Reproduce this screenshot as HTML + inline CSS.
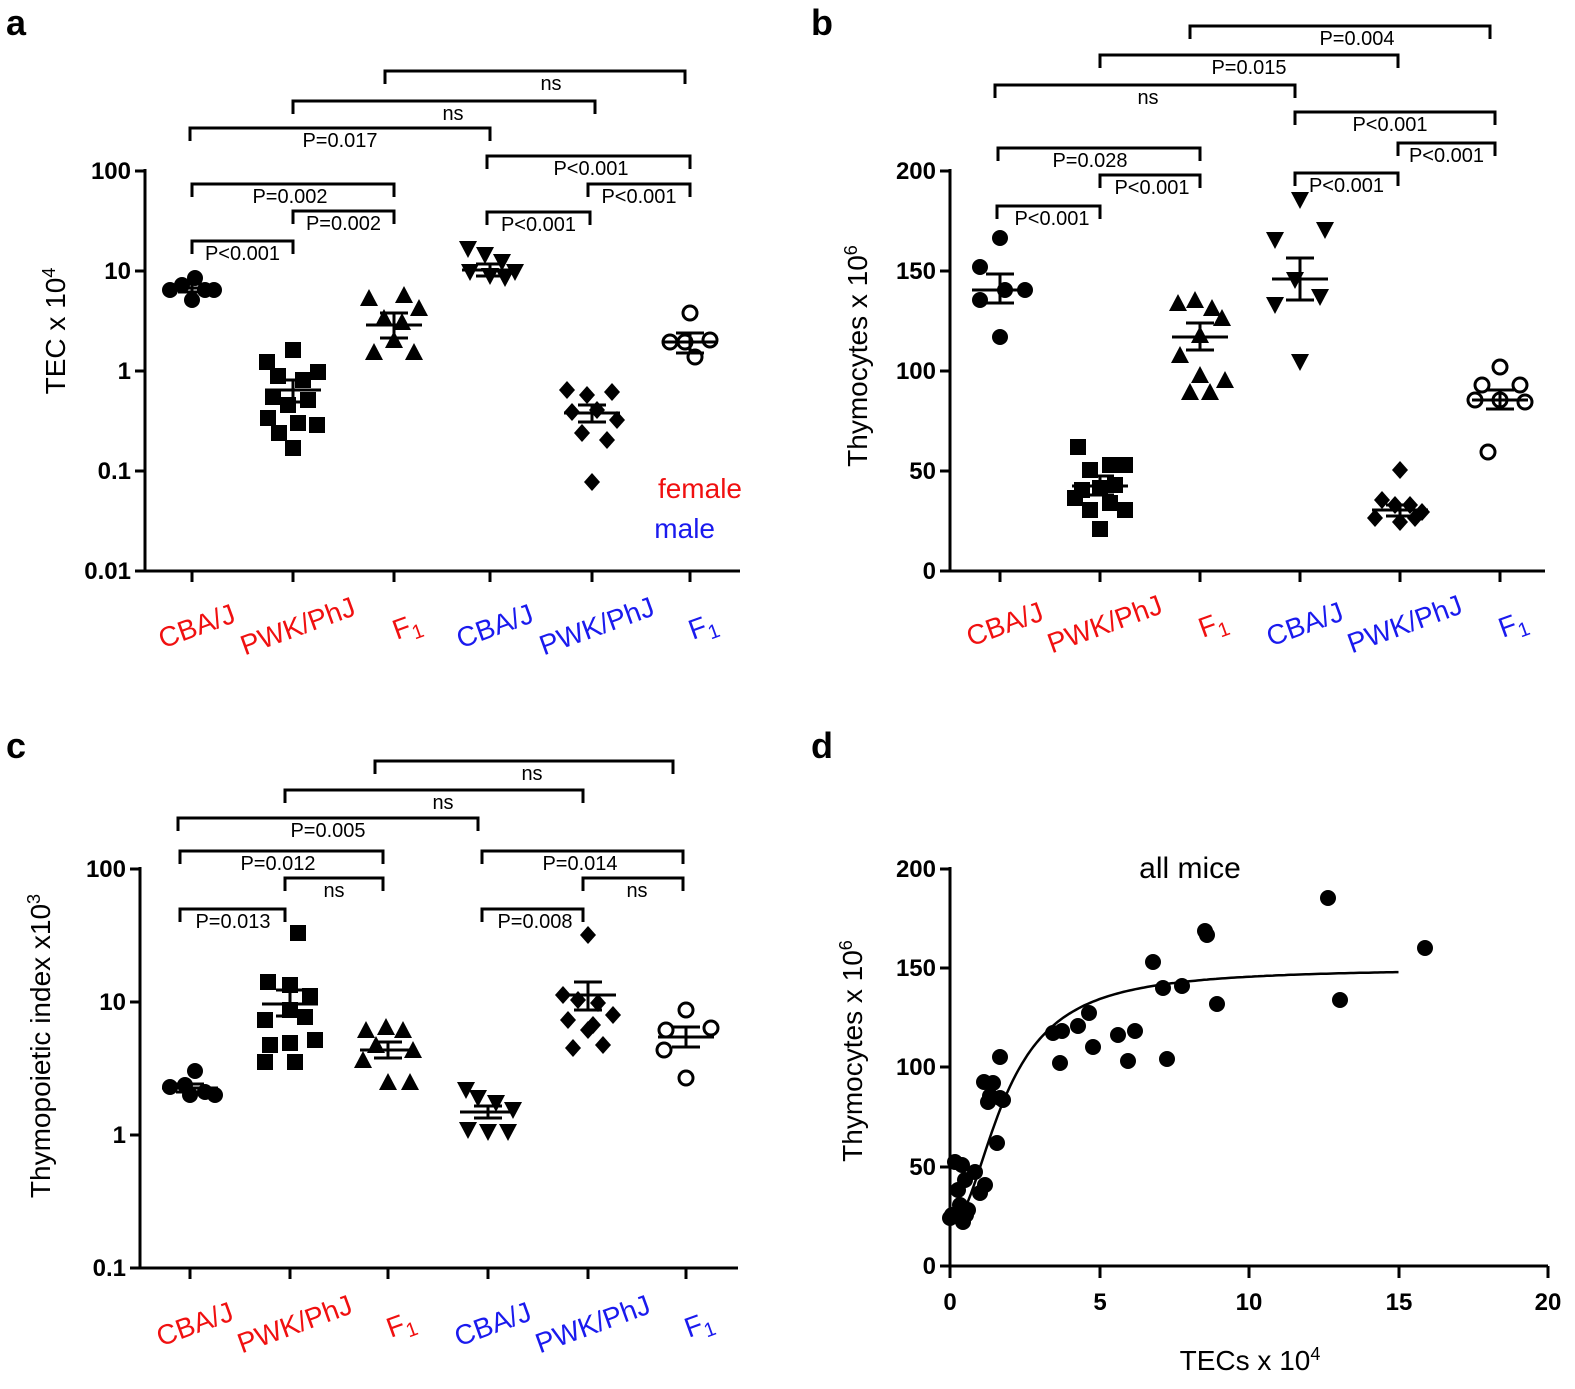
<!DOCTYPE html>
<html><head><meta charset="utf-8"><style>
html,body{margin:0;padding:0;background:#fff}
svg{display:block;font-family:"Liberation Sans",Arial,sans-serif}
</style></head><body>
<svg id="s" width="1575" height="1389" viewBox="0 0 1575 1389" xmlns="http://www.w3.org/2000/svg"></svg>
<script>
const s=document.getElementById('s');let h='';
const R='#f01010',B='#1a1aee';
function line(x1,y1,x2,y2,w){h+=`<line x1="${x1}" y1="${y1}" x2="${x2}" y2="${y2}" stroke="#000" stroke-width="${w||3}"/>`;}
function txt(x,y,t,o){o=o||{};h+=`<text x="${x}" y="${y}" font-size="${o.fs||20}" font-weight="${o.fw||'normal'}" fill="${o.c||'#000'}" text-anchor="${o.a||'middle'}" ${o.tr?'transform="'+o.tr+'"':''}>${t}</text>`;}
function br(y,x1,x2,lab,lx){line(x1,y,x2,y);line(x1,y-1.5,x1,y+13);line(x2,y-1.5,x2,y+13);txt(lx||(x1+x2)/2,y+19,lab,{fs:20});}
function mk(t,x,y){const r=8;
 if(t=='c')h+=`<circle cx="${x}" cy="${y}" r="${r}" fill="#000"/>`;
 if(t=='o')h+=`<circle cx="${x}" cy="${y}" r="${r-1}" fill="#fff" stroke="#000" stroke-width="3"/>`;
 if(t=='s')h+=`<rect x="${x-r}" y="${y-r}" width="${2*r}" height="${2*r}" fill="#000"/>`;
 if(t=='u')h+=`<polygon points="${x},${y-r-1} ${x+r+1},${y+r} ${x-r-1},${y+r}" fill="#000"/>`;
 if(t=='v')h+=`<polygon points="${x},${y+r+1} ${x+r+1},${y-r} ${x-r-1},${y-r}" fill="#000"/>`;
 if(t=='d')h+=`<polygon points="${x},${y-r-1} ${x+r},${y} ${x},${y+r+1} ${x-r},${y}" fill="#000"/>`;}
function grp(t,cx,pts,m,lo,hi){pts.forEach(p=>mk(t,cx+p[0],p[1]));line(cx-28,m,cx+28,m);line(cx,lo,cx,hi);line(cx-14,lo,cx+14,lo);line(cx-14,hi,cx+14,hi);}
function cats(xs,y){const L=['CBA/J','PWK/PhJ','F<tspan font-size="20" dy="6">1</tspan>'];
 xs.forEach((x,i)=>{const c=i<3?R:B;const cx=x+8+(i%3==2?8:0);txt(cx,y,L[i%3],{fs:28,c:c,a:'middle',tr:`rotate(-20 ${cx} ${y})`});});}
function yaxis(x,ys,labs,x2,yb){line(x,ys[0]-2,x,yb+1.5);ys.forEach((y,i)=>{line(x-10,y,x,y);txt(x-14,y+8,labs[i],{fs:24,fw:'bold',a:'end'});});line(x,yb,x2,yb);}
txt(16,35,'a',{fs:36,fw:'bold'});txt(822,35,'b',{fs:36,fw:'bold'});txt(16,758,'c',{fs:36,fw:'bold'});txt(822,758,'d',{fs:36,fw:'bold'});
// ---- A
yaxis(145,[171,271,371,471,571],['100','10','1','0.1','0.01'],740,571);
let xa=[192,293,394,490,592,690];xa.forEach(x=>line(x,571,x,582));
txt(65,331,'TEC x 10<tspan font-size="18" dy="-10">4</tspan>',{fs:28,tr:'rotate(-90 65 331)'});
br(71,385,685,'ns',551);br(101,293,595,'ns',453);br(128,190,490,'P=0.017');br(184,192,394,'P=0.002',290);br(211,293,394,'P=0.002');br(241,192,293,'P&lt;0.001');
br(156,487,690,'P&lt;0.001',591);br(184,588,690,'P&lt;0.001');br(212,487,590,'P&lt;0.001');
grp('c',192,[[-22,290],[-10,285],[3,278],[13,290],[22,290],[0,300]],288,284,292);
grp('s',293,[[-26,362],[0,350],[-15,376],[10,380],[25,372],[-20,397],[-5,405],[15,400],[-25,418],[5,423],[24,425],[0,448],[-14,433]],390,380,402);
grp('u',394,[[-25,298],[-10,318],[10,295],[25,308],[-20,352],[0,340],[20,352],[8,322]],325,313,338);
grp('v',490,[[-22,249],[-5,255],[12,262],[-20,272],[0,276],[15,278],[25,272]],270,264,276);
grp('d',592,[[-25,390],[-5,395],[20,392],[-20,412],[5,410],[25,420],[-10,433],[15,440],[0,482]],413,405,422);
grp('o',690,[[0,313],[-20,342],[-5,342],[20,340],[5,357]],342,333,353);
txt(742,498,'female',{fs:28,c:R,a:'end'});txt(715,538,'male',{fs:28,c:B,a:'end'});
cats(xa,635);
// ---- B
yaxis(950,[171,271,371,471,571],['200','150','100','50','0'],1545,571);
let xb=[1000,1100,1200,1300,1400,1500];xb.forEach(x=>line(x,571,x,582));
txt(867,356,'Thymocytes x 10<tspan font-size="18" dy="-10">6</tspan>',{fs:28,tr:'rotate(-90 867 356)'});
br(26,1190,1490,'P=0.004',1357);br(55,1100,1398,'P=0.015');br(85,995,1295,'ns',1148);br(112,1295,1495,'P&lt;0.001',1390);
br(148,998,1200,'P=0.028',1090);br(175,1100,1200,'P&lt;0.001',1152);br(143,1398,1495,'P&lt;0.001');br(173,1295,1398,'P&lt;0.001');br(206,997,1100,'P&lt;0.001',1052);
grp('c',1000,[[0,238],[-20,267],[5,290],[25,290],[-20,300],[0,337]],290,274,303);
grp('s',1100,[[-22,447],[-10,470],[10,465],[25,465],[-18,490],[0,488],[15,485],[-10,510],[10,503],[25,510],[0,529],[-25,498]],486,476,495);
grp('u',1200,[[-22,303],[-5,300],[12,308],[22,318],[0,335],[-20,355],[0,375],[25,380],[-10,392],[10,392]],337,323,350);
grp('v',1300,[[0,200],[-25,240],[25,230],[-5,280],[20,297],[-25,305],[0,362]],279,258,300);
grp('d',1400,[[0,470],[-18,500],[-5,505],[10,505],[22,512],[-25,518],[0,522],[15,518]],510,505,516);
grp('o',1500,[[0,367],[-18,385],[20,385],[-25,400],[0,400],[25,402],[-12,452]],400,390,409);
cats(xb,633);
// ---- C
yaxis(140,[869,1002,1135,1268],['100','10','1','0.1'],738,1268);
let xc=[190,290,388,488,588,686];xc.forEach(x=>line(x,1268,x,1279));
txt(50,1046,'Thymopoietic index x10<tspan font-size="18" dy="-10">3</tspan>',{fs:28,tr:'rotate(-90 50 1046)'});
br(761,375,673,'ns',532);br(790,285,583,'ns',443);br(818,178,478,'P=0.005');br(851,180,383,'P=0.012',278);br(878,285,383,'ns',334);br(909,180,285,'P=0.013',233);
br(851,482,683,'P=0.014',580);br(878,583,683,'ns',637);br(909,482,583,'P=0.008',535);
grp('c',190,[[-20,1087],[-5,1085],[5,1071],[15,1092],[25,1095],[0,1095]],1088,1084,1092);
grp('s',290,[[8,933],[-22,982],[0,985],[20,996],[-25,1020],[0,1010],[15,1017],[-20,1045],[0,1043],[25,1040],[-25,1062],[5,1062]],1004,990,1016);
grp('u',388,[[-22,1030],[-2,1027],[15,1030],[25,1050],[-12,1045],[-25,1060],[0,1082],[22,1082]],1050,1042,1058);
grp('v',488,[[-22,1090],[-10,1098],[8,1103],[25,1110],[-20,1130],[0,1132],[20,1132]],1112,1106,1118);
grp('d',588,[[0,935],[-25,995],[-10,1000],[10,1003],[25,1015],[-20,1020],[5,1025],[-15,1048],[15,1045],[0,1030]],995,982,1010);
grp('o',686,[[0,1010],[-20,1030],[25,1028],[-22,1050],[0,1078]],1037,1027,1047);
cats(xc,1333);
// ---- D
yaxis(950,[869,968,1067,1167,1266],['200','150','100','50','0'],1548,1266);
[[950,'0'],[1100,'5'],[1249,'10'],[1399,'15'],[1548,'20']].forEach(p=>{line(p[0],1266,p[0],1278);txt(p[0],1310,p[1],{fs:24,fw:'bold'});});
txt(1250,1370,'TECs x 10<tspan font-size="18" dy="-10">4</tspan>',{fs:28});
txt(862,1051,'Thymocytes x 10<tspan font-size="18" dy="-10">6</tspan>',{fs:28,tr:'rotate(-90 862 1051)'});
txt(1190,878,'all mice',{fs:30});
let d='';for(let x=0.4;x<=15.01;x+=0.1){const y=20+130*x*x/(3.4+x*x);d+=(d?'L':'M')+(950+x*29.9).toFixed(1)+','+(1266-y*1.985).toFixed(1);}
h+=`<path d="${d}" fill="none" stroke="#000" stroke-width="2.5"/>`;
[[952,1215],[955,1162],[962,1165],[958,1190],[965,1180],[960,1205],[966,1215],[963,1222],[968,1210],[975,1172],[980,1193],[984,1082],[990,1096],[993,1083],[997,1143],[1000,1057],[1000,1098],[1003,1100],[1053,1033],[1062,1031],[1060,1063],[1078,1026],[1089,1013],[1093,1047],[1118,1035],[1128,1061],[1135,1031],[1153,962],[1163,988],[1167,1059],[1182,986],[1205,931],[1207,935],[1217,1004],[1328,898],[1340,1000],[1425,948],[985,1185],[950,1218],[988,1102]].forEach(p=>mk('c',p[0],p[1]));
s.innerHTML=h;
</script>
</body></html>
